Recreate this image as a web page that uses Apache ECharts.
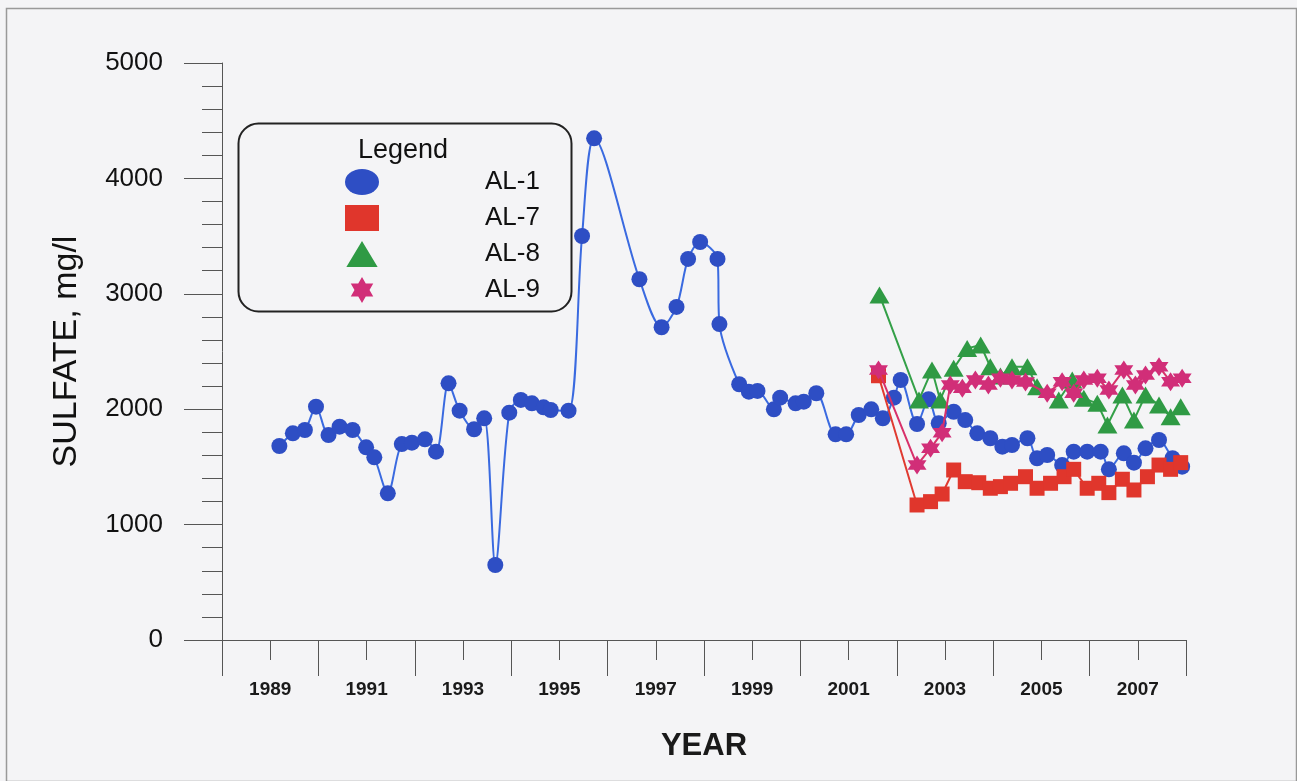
<!DOCTYPE html>
<html>
<head>
<meta charset="utf-8">
<script src="https://cdn.jsdelivr.net/npm/echarts@6/dist/echarts.min.js"></script>
<style>
html,body{margin:0;padding:0;background:#f4f4f6;}
#chart{width:1297px;height:781px;}
</style>
</head>
<body>
<div id="chart"></div>
<script>
// ---- Data ----
const al1Years = [1989.19,1989.47,1989.72,1989.95,1990.21,1990.44,1990.71,1990.99,1991.16,1991.44,1991.73,1991.94,1992.21,1992.44,1992.70,1992.93,1993.23,1993.44,1993.67,1993.96,1994.20,1994.43,1994.67,1994.82,1995.19,1995.47,1995.72,1996.66,1997.12,1997.43,1997.67,1997.92,1998.28,1998.32,1998.73,1998.93,1999.11,1999.45,1999.58,1999.90,2000.07,2000.33,2000.73,2000.95,2001.21,2001.47,2001.71,2001.94,2002.08,2002.42,2002.66,2002.87,2003.18,2003.42,2003.67,2003.94,2004.19,2004.39,2004.71,2004.91,2005.12,2005.43,2005.67,2005.95,2006.23,2006.40,2006.71,2006.92,2007.16,2007.44,2007.72,2007.92];
const al1Values = [1681,1791,1820,2022,1776,1849,1820,1670,1583,1271,1698,1710,1739,1632,2224,1987,1826,1921,650,1970,2080,2051,2016,1993,1987,3501,4347,3126,2710,2886,3302,3449,3302,2738,2216,2152,2158,1999,2100,2051,2065,2138,1782,1782,1950,1999,1921,2100,2253,1872,2086,1878,1978,1906,1791,1748,1675,1690,1748,1575,1603,1516,1632,1632,1632,1479,1618,1537,1661,1733,1575,1502];

const al7Years = [2001.62,2002.42,2002.70,2002.94,2003.18,2003.42,2003.70,2003.94,2004.15,2004.36,2004.67,2004.91,2005.19,2005.47,2005.67,2005.95,2006.19,2006.40,2006.68,2006.92,2007.20,2007.44,2007.68,2007.89];
const al7Values = [2290,1170,1199,1265,1473,1372,1363,1315,1329,1358,1415,1315,1358,1415,1479,1315,1358,1277,1393,1300,1415,1516,1479,1537];

const al8Years = [2001.64,2002.46,2002.73,2002.90,2003.18,2003.46,2003.74,2003.94,2004.15,2004.39,2004.71,2004.91,2005.36,2005.64,2005.88,2006.16,2006.37,2006.68,2006.92,2007.16,2007.44,2007.68,2007.89];
const al8Values = [2990,2080,2340,2080,2354,2527,2556,2368,2288,2368,2368,2195,2080,2253,2094,2051,1863,2123,1906,2123,2036,1935,2022];

const al9Years = [2001.62,2002.42,2002.70,2002.94,2003.11,2003.36,2003.63,2003.90,2004.15,2004.39,2004.67,2005.12,2005.43,2005.67,2005.88,2006.16,2006.40,2006.71,2006.95,2007.16,2007.44,2007.68,2007.92];
const al9Values = [2340,1516,1661,1797,2210,2181,2253,2210,2268,2253,2236,2138,2238,2138,2253,2268,2166,2340,2210,2296,2368,2238,2268];

const seriesNames = ['AL-1','AL-7','AL-8','AL-9'];
const yTicks = [0,1000,2000,3000,4000,5000];

const zip = (xs, ys) => xs.map((x, i) => [x, ys[i]]);
const STAR = 'path://M50 0L64.43 25L93.3 25L78.87 50L93.3 75L64.43 75L50 100L35.57 75L6.7 75L21.13 50L6.7 25L35.57 25Z';
// same star, padded horizontally so it keeps its shape in a 34x26 legend box
const STAR_LEGEND = 'path://M0 50L0.01 50L0 50.01Z M130.8 50L130.79 50L130.8 50.01Z ' +
  'M65.4 0L79.83 25L108.7 25L94.27 50L108.7 75L79.83 75L65.4 100L50.97 75L22.1 75L36.53 50L22.1 25L50.97 25Z';
const TRI_LEGEND = 'path://M0 50L0.01 50L0 50.01Z M100 50L99.99 50L100 50.01Z M50 4L96 96L4 96Z';
const ELLIPSE = 'path://M0 50A50 50 0 1 1 100 50A50 50 0 1 1 0 50Z';

const chart = echarts.init(document.getElementById('chart'), null, {renderer: 'canvas'});
const font = 'Liberation Sans, Arial, sans-serif';
const axisColor = '#555';

const option = {
  backgroundColor: '#f4f4f6',
  animation: false,
  grid: {left: 222, right: 111, top: 63, bottom: 141, containLabel: false},
  xAxis: [
    {
      type: 'value', min: 1988, max: 2008, interval: 2,
      axisLine: {show: true, lineStyle: {color: axisColor, width: 1}},
      axisTick: {show: true, length: 36, lineStyle: {color: axisColor}},
      axisLabel: {show: false},
      splitLine: {show: false},
      name: 'YEAR', nameLocation: 'middle', nameGap: 91,
      nameTextStyle: {fontFamily: font, fontSize: 31, fontWeight: 'bold', color: '#1a1a1a'}
    },
    {
      type: 'value', min: 1988, max: 2008, interval: 1, position: 'bottom',
      axisLine: {show: false},
      axisTick: {show: true, length: 20, lineStyle: {color: axisColor}},
      axisLabel: {
        show: true, margin: 40, fontFamily: font, fontSize: 19, fontWeight: 'bold', color: '#1a1a1a',
        formatter: v => (Math.round(v) % 2 === 1 ? String(Math.round(v)) : '')
      },
      splitLine: {show: false}
    }
  ],
  yAxis: {
    type: 'value', min: yTicks[0], max: yTicks[yTicks.length - 1], interval: 1000,
    axisLine: {show: true, lineStyle: {color: axisColor}},
    axisTick: {show: true, length: 38, lineStyle: {color: axisColor}},
    minorTick: {show: true, splitNumber: 5, length: 20, lineStyle: {color: axisColor}},
    axisLabel: {margin: 59, fontFamily: font, fontSize: 26, color: '#111', formatter: v => String(v)},
    splitLine: {show: false},
    name: 'SULFATE, mg/l', nameLocation: 'middle', nameGap: 138,
    nameTextStyle: {fontFamily: font, fontSize: 34, color: '#111'}
  },
  legend: {
    orient: 'vertical', left: 345, top: 169, padding: 0,
    itemWidth: 34, itemHeight: 26, itemGap: 10, symbolKeepAspect: false,
    textStyle: {fontFamily: font, fontSize: 26, color: '#111', padding: [0, 0, 0, 101]},
    data: [
      {name: 'AL-1', icon: ELLIPSE},
      {name: 'AL-7', icon: 'rect'},
      {name: 'AL-8', icon: TRI_LEGEND},
      {name: 'AL-9', icon: STAR_LEGEND}
    ],
    selectedMode: false
  },
  graphic: [
    {type: 'rect', left: 236, top: 121, shape: {width: 333, height: 188, r: 20},
     style: {fill: 'none', stroke: '#222', lineWidth: 2}, z: 0},
    {type: 'text', left: 358, top: 137, style: {text: 'Legend', font: '27px ' + font, fill: '#111'}},
    {type: 'rect', left: 4, top: 6, shape: {width: 1290, height: 773},
     style: {fill: 'none', stroke: '#999', lineWidth: 1.5}, silent: true}
  ],
  series: [
    {
      name: seriesNames[0], type: 'line', xAxisIndex: 0, data: zip(al1Years, al1Values),
      smooth: 0.3, symbol: 'circle', symbolSize: 16,
      itemStyle: {color: '#2e4ec4'}, lineStyle: {color: '#3a6ae0', width: 2}, z: 2
    },
    {
      name: seriesNames[1], type: 'line', xAxisIndex: 0, data: zip(al7Years, al7Values),
      symbol: 'rect', symbolSize: 15,
      itemStyle: {color: '#e0362c'}, lineStyle: {color: '#e03a30', width: 2}, z: 3
    },
    {
      name: seriesNames[2], type: 'line', xAxisIndex: 0, data: zip(al8Years, al8Values),
      symbol: 'triangle', symbolSize: [20, 17],
      itemStyle: {color: '#2f9a44'}, lineStyle: {color: '#34a048', width: 2}, z: 4
    },
    {
      name: seriesNames[3], type: 'line', xAxisIndex: 0, data: zip(al9Years, al9Values),
      symbol: STAR, symbolSize: 19,
      itemStyle: {color: '#d12e78'}, lineStyle: {color: '#d8306a', width: 2}, z: 5
    }
  ]
};
chart.setOption(option);
</script>
</body>
</html>
